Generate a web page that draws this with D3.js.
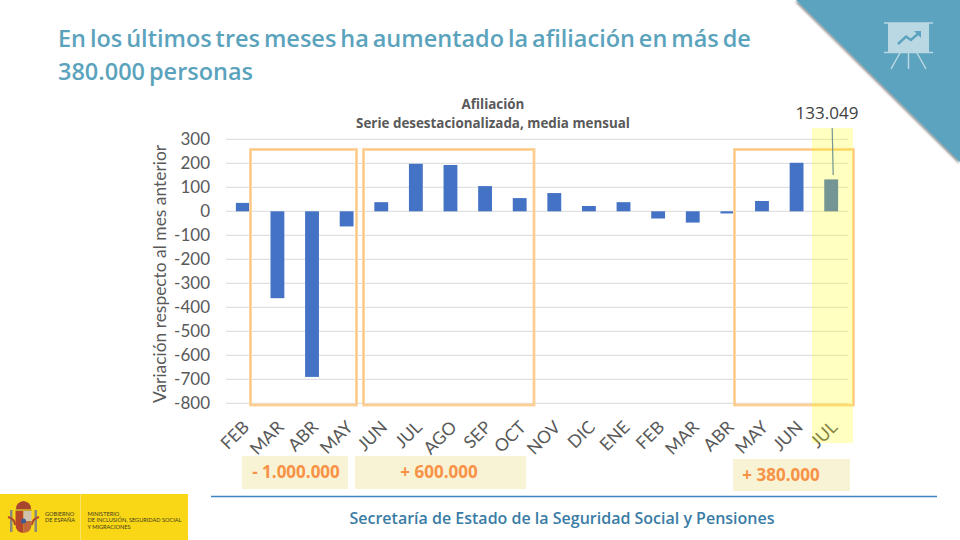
<!DOCTYPE html>
<html>
<head>
<meta charset="utf-8">
<script src="https://cdnjs.cloudflare.com/ajax/libs/d3/7.8.5/d3.min.js"></script>
<style>
  html, body { margin: 0; padding: 0; background: #fff; }
  text { font-family: "Lato", "Open Sans", sans-serif; }
</style>
</head>
<body>
<div id="graph"></div>
<script>
const months = ["FEB", "MAR", "ABR", "MAY", "JUN", "JUL", "AGO", "SEP", "OCT", "NOV", "DIC", "ENE", "FEB", "MAR", "ABR", "MAY", "JUN", "JUL"];
const variation = [35, -362, -690, -63, 38, 198, 193, 105, 55, 76, 22, 38, -30, -47, -9, 43, 202, 133];
const yTicks = [300, 200, 100, 0, -100, -200, -300, -400, -500, -600, -700, -800];
const titleLines = ["En los últimos tres meses ha aumentado la afiliación en más de", "380.000 personas"];
const chartTitle = ["Afiliación", "Serie desestacionalizada, media mensual"];
const periodLabels = ["- 1.000.000", "+ 600.000", "+ 380.000"];

const width = 960;
const height = 540;

const svg = d3.select("#graph")
    .append("svg")
    .attr("width", width)
    .attr("height", height)
    .style("display", "block");

const defs = svg.append("defs");
const blur = defs.append("filter").attr("id", "shadow").attr("x", "-10%").attr("y", "-10%").attr("width", "120%").attr("height", "120%");
blur.append("feDropShadow").attr("dx", -1).attr("dy", 1.5).attr("stdDeviation", 1.2).attr("flood-color", "#000").attr("flood-opacity", 0.45);

// Corner triangle
svg.append("path")
    .attr("d", "M796,0L960,0L960,162Z")
    .attr("fill", "#5ba3bf")
    .attr("filter", "url(#shadow)");

// Presentation board icon
const icon = svg.append("g").attr("fill", "none").attr("stroke", "#bad8e4");
icon.append("rect").attr("x", 888).attr("y", 23).attr("width", 41).attr("height", 29).attr("fill", "#bad8e4").attr("stroke", "none");
icon.append("path").attr("d", "M884,23H933M884,52.500H933").attr("stroke-width", 1.5);
icon.append("path").attr("d", "M900,53L891,69M908.500,53V69M917,53L926,69").attr("stroke-width", 1.5);
icon.append("path").attr("d", "M898,44L906,36.500L911,40L920,32").attr("stroke", "#5ba3bf").attr("stroke-width", 2.5);
icon.append("path").attr("d", "M914,31H921V38Z").attr("fill", "#5ba3bf").attr("stroke", "none");

// Slide title
svg.append("g").selectAll("text")
    .data(titleLines)
    .enter().append("text")
    .attr("x", 58)
    .attr("y", (d, i) => 47 + i * 33)
    .attr("fill", "#5ba3bd")
    .style("font-family", "'Open Sans', sans-serif")
    .style("font-weight", 600)
    .style("font-size", "23.500px")
    .style("word-spacing", "-2.200px")
    .text(d => d);

// Scales
const x = d3.scaleBand()
    .domain(d3.range(months.length))
    .range([225.5, 848.5])
    .paddingInner(0.6)
    .paddingOuter(0.3);

const y = d3.scaleLinear()
    .domain([-800, 300])
    .range([403.3, 139.3]);

// Gridlines
svg.append("g").selectAll("line")
    .data(yTicks)
    .enter().append("line")
    .attr("x1", 226)
    .attr("x2", 848)
    .attr("y1", d => y(d))
    .attr("y2", d => y(d))
    .attr("stroke", "#d9d9d9")
    .attr("stroke-width", 1);

// Y axis labels
svg.append("g").selectAll("text")
    .data(yTicks)
    .enter().append("text")
    .attr("x", 210)
    .attr("y", d => y(d) + 6)
    .attr("text-anchor", "end")
    .attr("fill", "#595959")
    .style("font-size", "17px")
    .text(d => d);

svg.append("text")
    .attr("transform", "translate(166,274) rotate(-90)")
    .attr("text-anchor", "middle")
    .attr("fill", "#595959")
    .style("font-size", "17.400px")
    .text("Variación respecto al mes anterior");

// Chart title
svg.append("g").selectAll("text")
    .data(chartTitle)
    .enter().append("text")
    .attr("x", 493)
    .attr("y", (d, i) => 108.5 + i * 19.5)
    .attr("text-anchor", "middle")
    .attr("fill", "#595959")
    .style("font-family", "'Open Sans', sans-serif")
    .style("font-weight", 700)
    .style("font-size", "13.400px")
    .text(d => d);

// Bars
svg.append("g").selectAll("rect")
    .data(variation)
    .enter().append("rect")
    .attr("x", (d, i) => x(i))
    .attr("width", x.bandwidth())
    .attr("y", d => y(Math.max(0, d)))
    .attr("height", d => Math.abs(y(d) - y(0)))
    .attr("fill", "#4472c4");

// Month labels
const last = months.length - 1;
svg.append("g").selectAll("text")
    .data(months)
    .enter().append("text")
    .attr("transform", (d, i) => `translate(${x(i) + x.bandwidth() / 2 + 3},${424}) rotate(-45)`)
    .attr("text-anchor", "end")
    .attr("dy", "0.35em")
    .attr("fill", "#595959")
    .style("font-size", "17.500px")
    .text(d => d);

// Period boxes
const boxEdges = [[250.5, 356.5], [363.5, 534], [734.5, 853.5]];
const boxes = svg.append("g").attr("fill", "none");
boxes.selectAll(".outer")
    .data(boxEdges)
    .enter().append("rect")
    .attr("class", "outer")
    .attr("x", d => d[0])
    .attr("y", 149.500)
    .attr("width", d => d[1] - d[0])
    .attr("height", 255.500)
    .attr("stroke", "#fdd8a4")
    .attr("stroke-width", 3);
boxes.selectAll(".inner")
    .data(boxEdges)
    .enter().append("rect")
    .attr("class", "inner")
    .attr("x", d => d[0])
    .attr("y", 149.500)
    .attr("width", d => d[1] - d[0])
    .attr("height", 255.500)
    .attr("stroke", "#f9b45e")
    .attr("stroke-width", 1)
    .attr("stroke-dasharray", "1 1");

// Callout for the last month
svg.append("line")
    .attr("x1", x(last) + x.bandwidth() / 2 + 1)
    .attr("x2", x(last) + x.bandwidth() / 2 + 2)
    .attr("y1", 128)
    .attr("y2", 175)
    .attr("stroke", "#4472c4")
    .attr("stroke-width", 1.2);

svg.append("text")
    .attr("x", 827)
    .attr("y", 119)
    .attr("text-anchor", "middle")
    .attr("fill", "#404040")
    .style("font-family", "'Open Sans', sans-serif")
    .style("font-size", "17px")
    .text(d3.format(",")(133049).replace(",", "."));

// Yellow highlight over the last month
svg.append("rect")
    .attr("x", 812)
    .attr("y", 128)
    .attr("width", 41)
    .attr("height", 315)
    .attr("fill", "#ffff00")
    .attr("opacity", 0.25);

// Period totals
const labelBoxes = [[242, 456, 106, 33], [355, 456, 171, 33], [733, 459, 117, 32]];
const labelCenters = [296, 439, 781];
svg.append("g").selectAll("rect")
    .data(labelBoxes)
    .enter().append("rect")
    .attr("x", d => d[0])
    .attr("y", d => d[1])
    .attr("width", d => d[2])
    .attr("height", d => d[3])
    .attr("fill", "#f9f3d5");
svg.append("g").selectAll("text")
    .data(periodLabels)
    .enter().append("text")
    .attr("x", (d, i) => labelCenters[i])
    .attr("y", (d, i) => labelBoxes[i][1] + 22)
    .attr("text-anchor", "middle")
    .attr("fill", "#f79246")
    .style("font-family", "'Open Sans', sans-serif")
    .style("font-weight", 700)
    .style("font-size", "17px")
    .text(d => d);

// Footer
svg.append("line")
    .attr("x1", 211).attr("x2", 937)
    .attr("y1", 496.500).attr("y2", 496.500)
    .attr("stroke", "#3f84c0")
    .attr("stroke-width", 1.5);

svg.append("text")
    .attr("x", 562)
    .attr("y", 523.500)
    .attr("text-anchor", "middle")
    .attr("fill", "#3a7ca5")
    .style("font-family", "'Open Sans', sans-serif")
    .style("font-weight", 600)
    .style("font-size", "16px")
    .text("Secretaría de Estado de la Seguridad Social y Pensiones");

// Government logo
const logo = svg.append("g");
logo.append("rect").attr("x", 0).attr("y", 494).attr("width", 188).attr("height", 46).attr("fill", "#f9d616");
logo.append("rect").attr("x", 80).attr("y", 494).attr("width", 1).attr("height", 46).attr("fill", "#fbe36b");
// crest: columns, crown, shield
logo.append("path").attr("d", "M10,510H12.500V532H10ZM34.500,510H37V532H34.500Z").attr("fill", "#8a8a78");
logo.append("path").attr("d", "M8,517Q15,519 15,525M39,517Q32,519 32,525").attr("fill", "none").attr("stroke", "#b5482a").attr("stroke-width", 2);
logo.append("path").attr("d", "M16,509Q16,502 23.500,501Q31,502 31,509Z").attr("fill", "#a8452e");
logo.append("rect").attr("x", 15.500).attr("y", 509).attr("width", 16).attr("height", 2).attr("fill", "#c9a227");
logo.append("path").attr("d", "M15.500,511H23.500V533Q15.500,532 15.500,525Z").attr("fill", "#b5482a");
logo.append("path").attr("d", "M23.500,511H31.500V521H23.500Z").attr("fill", "#cfc3ad");
logo.append("path").attr("d", "M23.500,521H31.500V525Q31.500,532 23.500,533Z").attr("fill", "#c2683a");
logo.append("circle").attr("cx", 23.500).attr("cy", 521).attr("r", 2.5).attr("fill", "#3e5a96");

const logoLeft = ["GOBIERNO", "DE ESPAÑA"];
const logoRight = ["MINISTERIO", "DE INCLUSIÓN, SEGURIDAD SOCIAL", "Y MIGRACIONES"];
logo.selectAll(".l").data(logoLeft).enter().append("text")
    .attr("class", "l")
    .attr("x", 45)
    .attr("y", (d, i) => 516 + i * 6.3)
    .attr("fill", "#3c3a20")
    .style("font-size", "5.600px")
    .text(d => d);
logo.selectAll(".r").data(logoRight).enter().append("text")
    .attr("class", "r")
    .attr("x", 87.500)
    .attr("y", (d, i) => 516 + i * 6.3)
    .attr("fill", "#3c3a20")
    .style("font-size", "5.600px")
    .text(d => d);
</script>
</body>
</html>
